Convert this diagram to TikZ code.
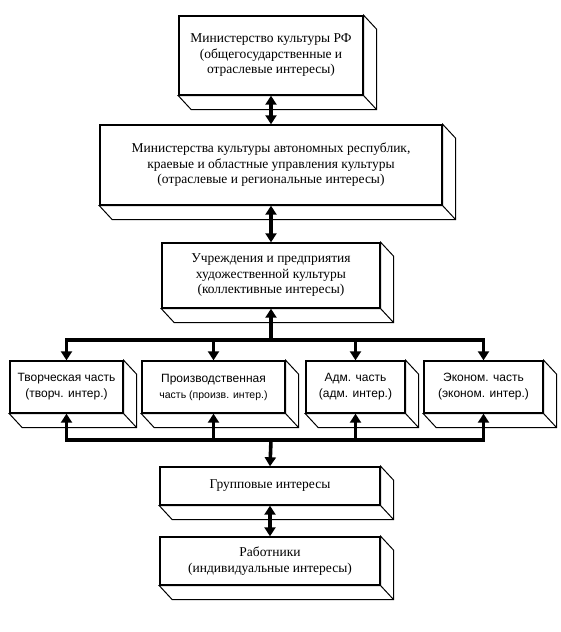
\documentclass[tikz,border=0pt]{standalone}
\usepackage{fontspec}
\setmainfont{Liberation Serif}
\newfontfamily\sansf{Liberation Sans}
\usetikzlibrary{arrows.meta,calc}
\tikzset{
  box/.style={draw, line width=1.4pt, fill=white, align=center, inner sep=2pt,
    font=\fontsize{13.5}{15.5}\selectfont},
  sbox/.style={box, font=\sansf\fontsize{12}{16}\selectfont},
  face/.style={draw, line width=1pt, fill=white, line join=miter},
  arr/.style={line width=3.6pt, line join=miter, -{Triangle[width=11pt,length=9pt]}},
  darr/.style={line width=3.6pt, line join=miter, {Triangle[width=11pt,length=9pt]}-{Triangle[width=11pt,length=9pt]}},
  bus/.style={line width=3.6pt, line join=miter}
}
\newcommand{\extr}[1]{%
  \draw[face] (#1.north east) -- ++(13,14) -- ($(#1.south east)+(13,14)$) -- ($(#1.south west)+(13,14)$) -- (#1.south west) -- (#1.south east) -- cycle;
  \draw[line width=1pt] (#1.south east) -- ++(13,14);
}
\begin{document}
\begin{tikzpicture}[x=1pt,y=-1pt]
\useasboundingbox (0,0) rectangle (561,632);
\node[box, minimum width=184pt, minimum height=79pt] (b1) at (271,55.5)
  {Министерство культуры РФ\\(общегосударственные и\\отраслевые интересы)};
\node[box, minimum width=342pt, minimum height=80pt] (b2) at (271,165)
  {Министерства культуры автономных республик,\\краевые и областные управления культуры\\(отраслевые и региональные интересы)};
\node[box, minimum width=218pt, minimum height=65pt] (b3) at (271,275.5)
  {Учреждения и предприятия\\художественной культуры\\(коллективные интересы)};
\node[sbox, minimum width=113pt, minimum height=52pt] (pa) at (66.5,387)
  {Творческая часть\\(творч. интер.)};
\node[sbox, minimum width=143pt, minimum height=52pt] (pb) at (213.5,387)
  {Производственная\\{\fontsize{10.5}{13}\selectfont часть (произв. интер.)}};
\node[sbox, minimum width=99pt, minimum height=52pt] (pc) at (355.5,387)
  {Адм. часть\\(адм. интер.)};
\node[sbox, minimum width=119pt, minimum height=52pt] (pd) at (483.5,387)
  {Эконом. часть\\(эконом. интер.)};
\node[box, minimum width=220pt, minimum height=38pt] (b4) at (270,486)
  {Групповые интересы};
\node[box, minimum width=220pt, minimum height=48pt] (b5) at (270,561)
  {Работники\\(индивидуальные интересы)};
\foreach \n in {b1,b2,b3,pa,pb,pc,pd,b4,b5} {\extr{\n}}
\coordinate (bt) at (271,340);
\coordinate (bb) at (271,440);
\draw[darr] (b1.south) -- (b2.north);
\draw[darr] (b2.south) -- (b3.north);
\draw[bus, {Triangle[width=11pt,length=9pt]}-] (b3.south) -- (bt);
\draw[darr] (pa.north) -- (pa.north |- bt) -- (pd.north |- bt) -- (pd.north);
\draw[arr] (pb.north |- bt) -- (pb.north);
\draw[arr] (pc.north |- bt) -- (pc.north);
\draw[darr] (pa.south) -- (pa.south |- bb) -- (pd.south |- bb) -- (pd.south);
\draw[arr] (pb.south |- bb) -- (pb.south);
\draw[arr] (pc.south |- bb) -- (pc.south);
\draw[arr] (bb) -- (b4.north);
\draw[darr] (b4.south) -- (b5.north);
\end{tikzpicture}
\end{document}
